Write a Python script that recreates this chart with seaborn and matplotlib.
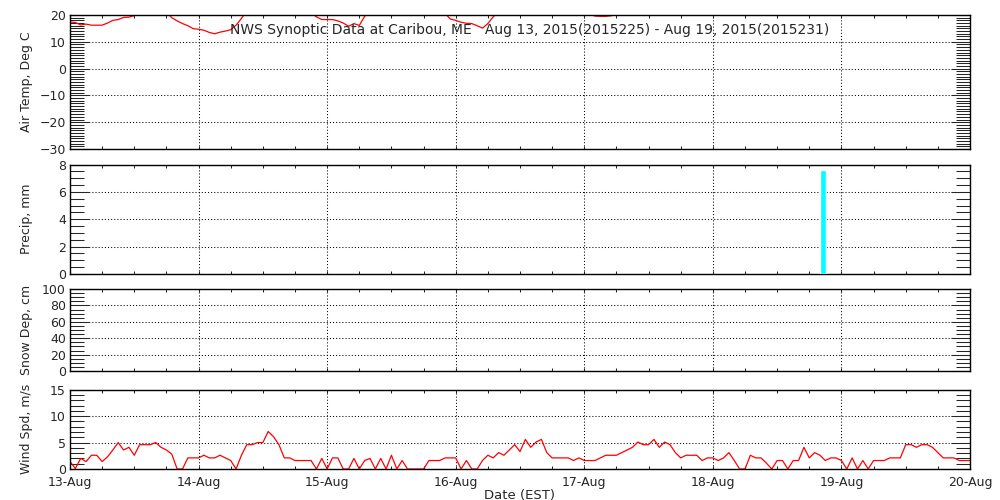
import numpy as np
import pandas as pd
import matplotlib
matplotlib.use("Agg")
import matplotlib.pyplot as plt
from matplotlib.ticker import MultipleLocator
import seaborn as sns

# Textos del grafico
title = "NWS Synoptic Data at Caribou, ME   Aug 13, 2015(2015225) - Aug 19, 2015(2015231)"
day_labels = ["13-Aug", "14-Aug", "15-Aug", "16-Aug", "17-Aug", "18-Aug", "19-Aug", "20-Aug"]

# Temperatura horaria (deg C), desde 13-Aug 00:00 (valores > 20 quedan fuera de escala)
air_temp = [
    17.4, 17.2, 16.3, 16.6, 16.2, 16.2, 16.2, 17.0, 18.0, 18.3, 19.1, 19.2, 19.8,
    21.0, 22.0, 22.8, 23.0, 22.4, 21.0,
    19.0, 17.8, 16.8, 16.0, 14.9, 14.7, 14.3, 13.5, 13.0, 13.6, 14.0, 14.5, 16.2, 18.7,
    21.5, 23.0, 24.5, 25.5, 26.0, 26.5, 26.8, 26.5, 26.0, 25.0, 23.5, 22.0, 20.8,
    19.3, 18.3, 18.3, 18.3, 17.8, 17.0, 15.8, 16.8, 16.1, 19.5,
    21.5, 23.0, 24.5, 25.5, 26.5, 27.0, 27.5, 27.8, 27.5, 27.0, 26.0, 24.5, 23.0, 21.8, 20.6,
    18.5, 18.0, 17.3, 16.9, 16.8, 16.0, 15.1, 16.8, 19.3,
    21.5, 23.5, 25.0, 26.5, 27.5, 28.5, 29.0, 29.5, 29.5, 29.0, 28.0, 26.5, 25.0, 23.5,
    22.5, 21.5, 21.0, 20.4,
    19.6, 19.5, 19.5, 19.7,
    20.3, 21.0, 22.0, 23.5, 25.0, 26.5, 27.5, 28.5, 29.5, 30.0, 30.5, 30.5, 30.0, 29.0,
    28.0, 26.5, 25.0, 24.0, 23.0, 22.5, 22.0, 21.5, 21.2, 21.0,
    21.0, 20.8, 20.8, 21.0, 21.5, 22.5, 24.0, 25.5, 27.0, 28.0, 29.0, 29.5, 29.5, 29.0,
    28.0, 27.0, 25.5, 24.5, 23.5, 23.0, 22.5, 22.0, 21.8, 21.5,
    21.3, 21.2, 21.2, 21.5, 22.0, 23.0, 24.5, 26.0, 27.0, 28.0, 28.5, 28.5, 28.0, 27.0,
    25.5, 24.5, 23.5, 23.0, 22.5,
]

# Velocidad del viento horaria (m/s)
wind_spd = [
    1.4, 0.1, 2.0, 1.4, 2.6, 2.6, 1.4, 2.3, 3.6, 5.0, 3.6, 4.1, 2.6, 4.6, 4.6, 4.6, 5.0, 4.1, 3.6, 2.8, 0.0, 0.0, 2.1, 2.1,
    2.1, 2.6, 2.1, 2.1, 2.6, 2.1, 1.6, 0.0, 2.6, 4.6, 4.6, 5.0, 5.0, 7.1, 6.1, 4.6, 2.1, 2.1, 1.6, 1.6, 1.6, 1.6, 0.0, 2.0,
    0.0, 2.1, 2.1, 0.0, 0.0, 2.0, 0.0, 1.6, 2.0, 0.0, 2.0, 0.0, 2.6, 0.0, 1.6, 0.0, 0.0, 0.0, 0.0, 1.6, 1.6, 1.6, 2.1, 2.1,
    2.1, 0.0, 1.6, 0.0, 0.0, 1.6, 2.6, 2.1, 3.1, 2.6, 3.6, 4.6, 3.3, 5.6, 4.1, 5.1, 5.6, 3.1, 2.1, 2.1, 2.1, 2.1, 1.6, 2.1,
    1.6, 1.6, 1.6, 2.1, 2.6, 2.6, 2.6, 3.1, 3.6, 4.1, 5.1, 4.6, 4.6, 5.6, 4.1, 5.1, 4.6, 3.1, 2.1, 2.6, 2.6, 2.6, 1.6, 2.1,
    2.1, 1.6, 2.1, 3.1, 1.6, 0.0, 0.0, 2.6, 2.1, 2.1, 1.1, 0.0, 1.6, 1.6, 0.0, 1.6, 1.6, 4.1, 2.1, 3.1, 2.6, 1.6, 2.1, 2.1,
    1.6, 0.0, 2.1, 0.0, 1.6, 0.0, 1.6, 1.6, 1.6, 2.1, 2.1, 2.1, 4.6, 4.6, 4.1, 4.6, 4.6, 4.1, 3.1, 2.1, 2.1, 2.1, 1.6, 1.6,
    1.6,
]

# Precipitacion (hora desde 13-Aug 00:00, mm)
precip_hour = [140]
precip_mm = [7.6]

hours = np.arange(len(air_temp))
df = pd.DataFrame({"day": hours / 24, "temp": air_temp, "wind": wind_spd})

sns.set_style("ticks")
plt.rcParams["font.family"] = ["DejaVu Sans"]
plt.rcParams["font.size"] = 9

fig = plt.figure(figsize=(10, 5), dpi=100)
ax_t = fig.add_axes([0.07, 0.702, 0.90, 0.268])
ax_p = fig.add_axes([0.07, 0.452, 0.90, 0.219])
ax_s = fig.add_axes([0.07, 0.258, 0.90, 0.164])
ax_w = fig.add_axes([0.07, 0.062, 0.90, 0.1586])

sns.lineplot(data=df, x="day", y="temp", ax=ax_t, color="red", linewidth=0.9, estimator=None)
ax_p.bar(np.array(precip_hour) / 24, precip_mm, width=1.1 / 24, align="edge", color="cyan", zorder=3)
sns.lineplot(data=df, x="day", y="wind", ax=ax_w, color="red", linewidth=0.9, estimator=None)


def estilo(ax, ymin, ymax, mayor, menor, etiqueta):
    ax.set_xlim(0, 7)
    ax.set_ylim(ymin, ymax)
    ax.xaxis.set_major_locator(MultipleLocator(1))
    ax.xaxis.set_minor_locator(MultipleLocator(0.25))
    ax.yaxis.set_major_locator(MultipleLocator(mayor))
    ax.yaxis.set_minor_locator(MultipleLocator(menor))
    ax.tick_params(axis="y", which="major", direction="in", length=13.5, width=0.75,
                   left=True, right=True, pad=3, labelsize=9)
    ax.tick_params(axis="y", which="minor", direction="in", length=10, width=0.75,
                   left=True, right=True)
    ax.tick_params(axis="x", which="both", direction="in", length=2.5, width=0.75,
                   top=True, bottom=True, pad=5, labelsize=9)
    ax.grid(which="major", linestyle=(0, (1, 2)), color="black", linewidth=0.75)
    for sp in ax.spines.values():
        sp.set_linewidth(1.0)
        sp.set_color("black")
    ax.set_ylabel(etiqueta, fontsize=9)
    ax.yaxis.set_label_coords(-0.041, 0.5)
    ax.set_xlabel("")
    ax.set_xticklabels([])


estilo(ax_t, -30, 20, 10, 1, "Air Temp, Deg C")
estilo(ax_p, 0, 8, 2, 0.5, "Precip, mm")
estilo(ax_s, 0, 100, 20, 5, "Snow Dep, cm")
estilo(ax_w, 0, 15, 5, 1, "Wind Spd, m/s")

ax_w.set_xticks(range(len(day_labels)))
ax_w.set_xticklabels(day_labels)
ax_w.set_xlabel("Date (EST)", fontsize=9.5, labelpad=0)

fig.text(0.53, 1 - 30 / 500, title, ha="center", va="center", fontsize=10)

fig.savefig("out.png", dpi=100, facecolor="white")
